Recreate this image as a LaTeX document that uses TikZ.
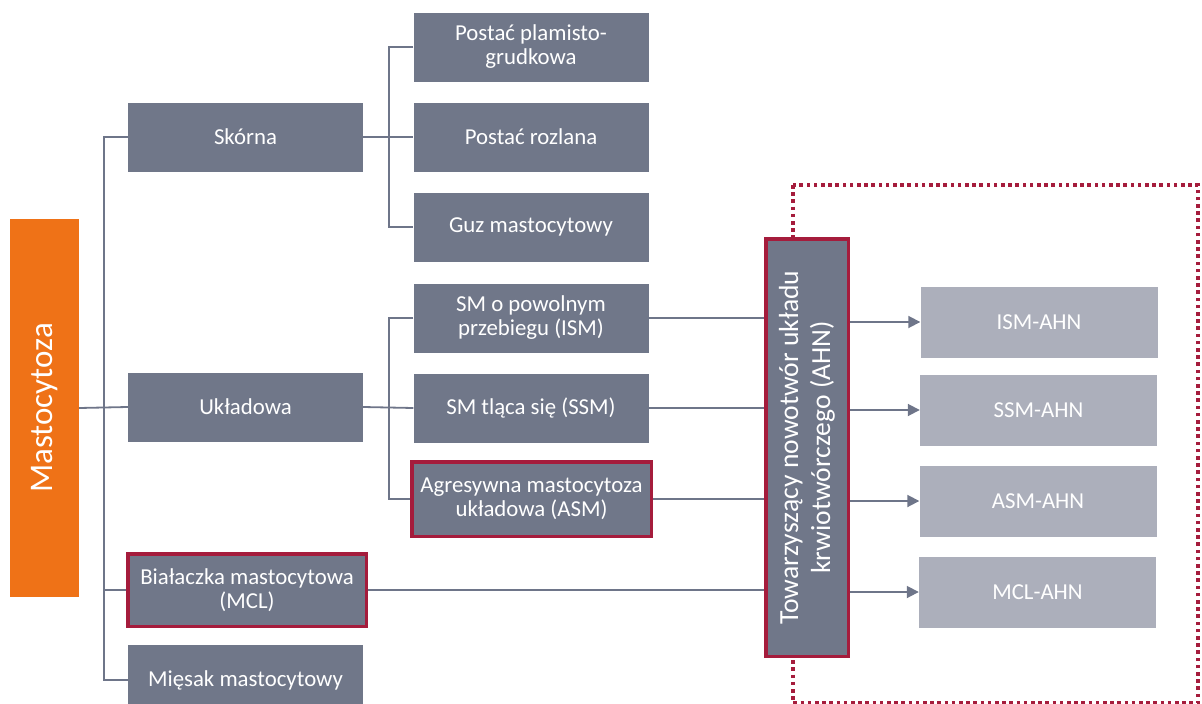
\documentclass[tikz,border=0pt]{standalone}
\usepackage{fontspec}
\setmainfont{Carlito}
\usetikzlibrary{arrows.meta}
\definecolor{boxgray}{HTML}{707789}
\definecolor{lightbox}{HTML}{ACAFBB}
\definecolor{orangebox}{HTML}{EF7217}
\definecolor{redline}{HTML}{A51C3C}
\definecolor{linegray}{HTML}{6E7589}
\tikzset{
  gbox/.style={fill=boxgray, text=white, minimum width=235pt, minimum height=69pt, inner sep=0pt, align=center, font=\fontsize{22.8}{24}\selectfont},
  redbox/.style={gbox, draw=redline, line width=3.5pt},
  lbox/.style={fill=lightbox, text=white, minimum width=237pt, minimum height=71pt, inner sep=0pt, align=center, font=\fontsize{22.8}{24}\selectfont},
  conn/.style={draw=linegray, line width=1.8pt},
  arr/.style={conn, -{Triangle[length=12pt,width=12pt]}},
  dotbox/.style={draw=redline, line width=3.6pt, dash pattern=on 3.6pt off 3.6pt}
}
\begin{document}
\begin{tikzpicture}[x=1pt,y=-1pt]
\useasboundingbox (0,0) rectangle (1202,704);
% dotted frame
\draw[dotbox] (793,185) rectangle (1198,703);
% root
\node[fill=orangebox, text=white, minimum width=69pt, minimum height=378pt, inner sep=0pt] (masto) at (44.5,408) {};
\node[rotate=90, text=white, font=\fontsize{33}{38}\selectfont] at (masto.center) {Mastocytoza};
% level 1
\node[gbox] (skorna) at (245.5,137) {Skórna};
\node[gbox] (uklad) at (245.5,407) {Układowa};
\node[redbox, minimum width=238.5pt, minimum height=72.5pt] (bial) at (247,590) {Białaczka mastocytowa\\(MCL)};
\node[gbox, minimum height=70pt] (miesak) at (245.5,680) {Mięsak mastocytowy};
% level 2 skin
\node[gbox] (plam) at (531,47) {Postać plamisto-\\grudkowa};
\node[gbox] (rozl) at (531,137) {Postać rozlana};
\node[gbox] (guz) at (531,227) {Guz mastocytowy};
% level 2 systemic
\node[gbox] (ism) at (531,318) {SM o powolnym\\przebiegu (ISM)};
\node[gbox] (ssm) at (531,408) {SM tląca się (SSM)};
\node[redbox, minimum width=239.5pt, minimum height=74.5pt] (asm) at (531.5,499) {Agresywna mastocytoza\\układowa (ASM)};
% AHN tall box
\node[draw=redline, line width=3.5pt, fill=boxgray, minimum width=82.5pt, minimum height=417.5pt, inner sep=0pt] (ahn) at (807,447.5) {};
\node[rotate=90, text=white, align=center, font=\fontsize{27.6}{32}\selectfont] at (ahn.center) {Towarzyszący nowotwór układu\\krwiotwórczego (AHN)};
% AHN results
\node[lbox] (ismahn) at (1039,322) {ISM-AHN};
\node[lbox] (ssmahn) at (1038.5,410) {SSM-AHN};
\node[lbox] (asmahn) at (1038,501) {ASM-AHN};
\node[lbox] (mclahn) at (1037.5,592) {MCL-AHN};
% trunk connectors
\coordinate (trunk) at (104,0);
\coordinate (skin) at (389,0);
\draw[conn] (masto.east) -- (uklad.west);
\draw[conn] (skorna.west) -- (skorna.west -| trunk) -- (miesak.west -| trunk) -- (miesak.west);
\draw[conn] (bial.west -| trunk) -- (bial.west);
% skin connectors
\draw[conn] (skorna.east) -- (rozl.west);
\draw[conn] (plam.west) -- (plam.west -| skin) -- (guz.west -| skin) -- (guz.west);
% systemic connectors
\draw[conn] (uklad.east) -- (ssm.west);
\draw[conn] (ism.west) -- (ism.west -| skin) -- (asm.west -| skin) -- (asm.west);
% to AHN
\draw[conn] (ism.east) -- (ism.east -| ahn.west);
\draw[conn] (ssm.east) -- (ssm.east -| ahn.west);
\draw[conn] (asm.east) -- (asm.east -| ahn.west);
\draw[conn] (bial.east) -- (bial.east -| ahn.west);
% arrows
\draw[arr] (ismahn.west -| ahn.east) -- (ismahn.west);
\draw[arr] (ssmahn.west -| ahn.east) -- (ssmahn.west);
\draw[arr] (asmahn.west -| ahn.east) -- (asmahn.west);
\draw[arr] (mclahn.west -| ahn.east) -- (mclahn.west);
\end{tikzpicture}
\end{document}
